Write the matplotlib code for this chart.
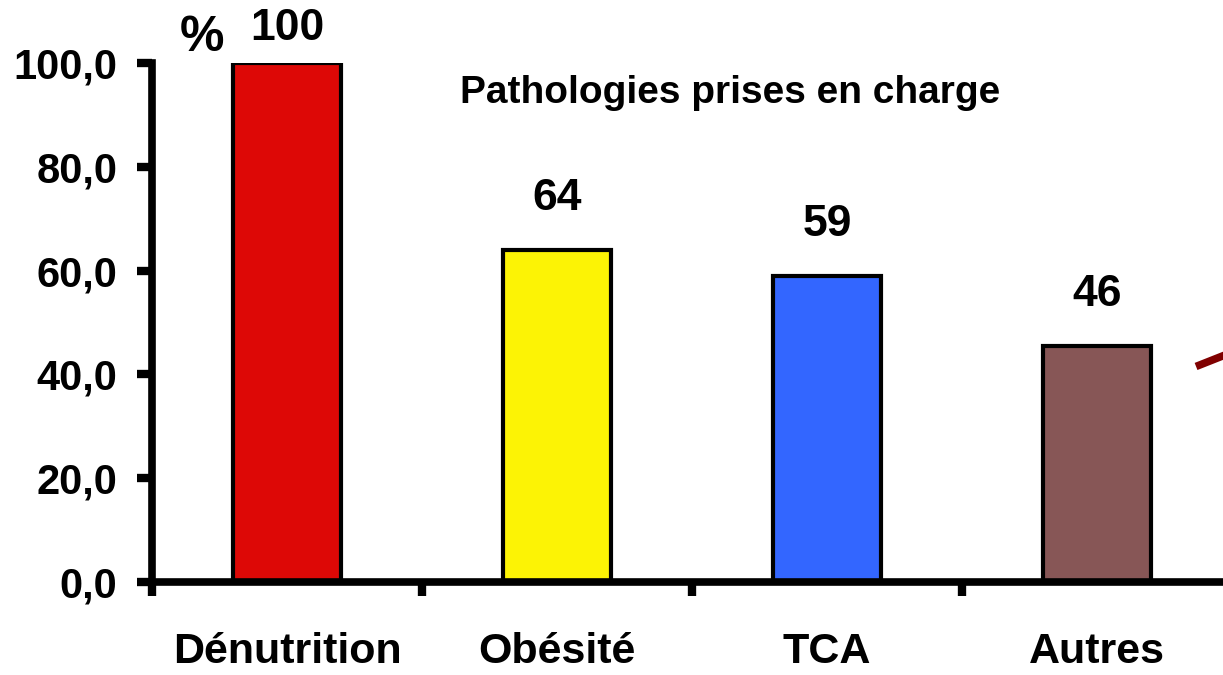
import matplotlib.pyplot as plt
from matplotlib.ticker import FuncFormatter

plt.rcParams['font.family'] = ['Liberation Sans', 'DejaVu Sans']
plt.rcParams['font.weight'] = 'bold'

categories = ["Dénutrition", "Obésité", "TCA", "Autres"]
values = [100, 64, 59, 45.5]
value_labels = ["100", "64", "59", "46"]
colors = ["#dd0806", "#fcf305", "#3366ff", "#875656"]

# bout de trait coupé au bord droit
trait_x = [3.38, 3.55]
trait_y = [41.8, 45.3]

fig = plt.figure(figsize=(12.23, 6.75), dpi=100)
ax = fig.add_axes([152 / 1223, 1 - 582 / 675, 1080 / 1223, (582 - 63) / 675])

x = range(len(categories))
ax.bar(x, values, width=0.4, color=colors, edgecolor="black", linewidth=3, zorder=2)

for i, (v, lab) in enumerate(zip(values, value_labels)):
    decal = 10 if v >= 100 else 22  # le 100 est collé à la barre
    ax.annotate(lab, (i, v), xytext=(0, decal), textcoords="offset points",
                ha="center", va="bottom", fontsize=32, fontweight="bold")

ax.plot(trait_x, trait_y, color="#800000", linewidth=5.5, clip_on=False, zorder=3)

ax.set_xlim(-0.5, 3.5)
ax.set_ylim(0, 100)
ax.set_yticks([0, 20, 40, 60, 80, 100])
ax.yaxis.set_major_formatter(FuncFormatter(lambda v, p: f"{v:.1f}".replace(".", ",")))
ax.tick_params(axis="y", direction="out", length=11, width=6, labelsize=30, pad=14)

ax.set_xticks(list(x))
ax.set_xticklabels(categories, fontsize=31, fontweight="bold")
ax.set_xticks([-0.5, 0.5, 1.5, 2.5, 3.5], minor=True)
ax.tick_params(axis="x", which="major", length=0, pad=36)
ax.tick_params(axis="x", which="minor", direction="out", length=10, width=6)

for s in ["top", "right"]:
    ax.spines[s].set_visible(False)
for s in ["left", "bottom"]:
    ax.spines[s].set_linewidth(5.5)

fig.text(202 / 1223, 1 - 38 / 675, "%", ha="center", va="center", fontsize=36, fontweight="bold")
fig.text(730 / 1223, 1 - 93 / 675, "Pathologies prises en charge", ha="center", va="center",
         fontsize=28, fontweight="bold")

fig.savefig("out.png", dpi=100)
